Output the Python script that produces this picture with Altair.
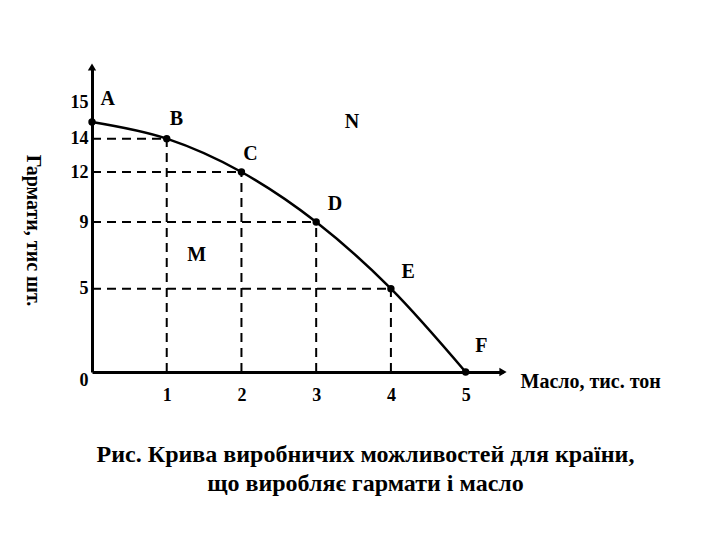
import altair as alt
import pandas as pd

# Data
points = ["A", "B", "C", "D", "E", "F"]
butter = [0, 1, 2, 3, 4, 5]          # Масло, тис. тон
guns = [15, 14, 12, 9, 5, 0]         # Гармати, тис шт.

label_text = ["A", "B", "C", "D", "E", "F", "N", "M"]
label_x = [0.21, 1.13, 2.12, 3.25, 4.23, 5.21, 3.48, 1.4]
label_y = [16.4, 15.2, 13.08, 10.08, 6.02, 1.56, 15.0, 7.0]

y_ticks = [0, 5, 9, 12, 14, 15]
x_ticks = [1, 2, 3, 4, 5]
x_max = 5.5
y_max = 18.3

FONT = "Liberation Serif, Times New Roman, DejaVu Serif, serif"

df = pd.DataFrame({"p": points, "x": butter, "y": guns})
guides = df[(df.x > 0) & (df.y > 0)].copy()
guides["zero"] = 0
labels = pd.DataFrame({"t": label_text, "x": label_x, "y": label_y})
arrows = pd.DataFrame({"x": [0, x_max], "y": [y_max, 0],
                       "shape": ["triangle-up", "triangle-right"]})

xscale = alt.Scale(domain=[0, x_max], nice=False, zero=False)
yscale = alt.Scale(domain=[0, y_max], nice=False, zero=False)

xaxis = alt.Axis(values=x_ticks, grid=False, ticks=False, domainColor="black",
                 domainWidth=3, labelFont=FONT, labelFontWeight="bold",
                 labelFontSize=18, labelColor="black", labelPadding=14,
                 labelOverlap=False,
                 title="Масло, тис. тон", titleFont=FONT, titleFontWeight="bold",
                 titleFontSize=20, titleColor="black", titleX=428, titleY=9,
                 titleAlign="left", titleBaseline="middle", titleAngle=0)
yaxis = alt.Axis(values=y_ticks, grid=False, ticks=False, domainColor="black",
                 domainWidth=3, labelFont=FONT, labelFontWeight="bold",
                 labelFontSize=18, labelColor="black", labelPadding=4,
                 labelOverlap=False, labelBound=False,
                 labelOffset={"condition": [{"test": "datum.value == 15", "value": -20},
                                            {"test": "datum.value == 0", "value": 8}],
                              "value": 0},
                 title="Гармати, тис шт.", titleFont=FONT, titleFontWeight="bold",
                 titleFontSize=20, titleColor="black", titleX=-60, titleY=163,
                 titleAngle=90, titleAlign="center", titleBaseline="middle")


def X(f):
    return alt.X(f"{f}:Q", scale=xscale, axis=xaxis)


def Y(f):
    return alt.Y(f"{f}:Q", scale=yscale, axis=yaxis)


base = alt.Chart(df)

hdash = alt.Chart(guides).mark_rule(color="black", strokeWidth=2, strokeDash=[9, 6]).encode(
    x=X("zero"), x2="x:Q", y=Y("y"))
vdash = alt.Chart(guides).mark_rule(color="black", strokeWidth=2, strokeDash=[9, 6]).encode(
    x=X("x"), y=Y("zero"), y2="y:Q")

curve = base.mark_line(color="black", strokeWidth=2.5, interpolate="monotone").encode(
    x=X("x"), y=Y("y"))
dots = base.mark_circle(color="black", size=55, opacity=1).encode(x=X("x"), y=Y("y"))

heads = alt.Chart(arrows).mark_point(filled=True, color="black", size=70, opacity=1).encode(
    x=X("x"), y=Y("y"), shape=alt.Shape("shape:N", scale=None))

txt = alt.Chart(labels).mark_text(font=FONT, fontWeight="bold", fontSize=20,
                                  color="black", align="center", baseline="middle").encode(
    x=X("x"), y=Y("y"), text="t:N")

chart = alt.layer(hdash, vdash, curve, dots, heads, txt).properties(
    width=411, height=305,
    background="white",
    autosize=alt.AutoSizeParams(type="none"),
    padding={"left": 84, "top": 59, "right": 209, "bottom": 160},
    title=alt.TitleParams(
        text=["Рис.  Крива виробничих можливостей для країни,",
              "що виробляє гармати і масло"],
        orient="bottom", anchor="middle", dx=68, offset=39,
        font=FONT, fontWeight="bold", fontSize=24, lineHeight=29, color="black"),
).configure_view(stroke="transparent", strokeWidth=0)

chart.save("out.html", embed_options={"renderer": "svg", "actions": False})
